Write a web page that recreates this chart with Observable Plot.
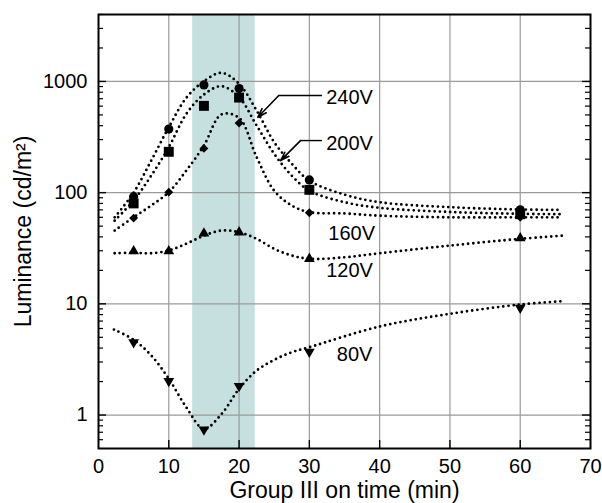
<!DOCTYPE html>
<html>
<head>
<meta charset="utf-8">
<script src="https://cdn.jsdelivr.net/npm/d3@7"></script>
<script src="https://cdn.jsdelivr.net/npm/@observablehq/plot@0.6"></script>
<style>
  html, body { margin: 0; padding: 0; background: #fff; }
  #chart svg { display: block; }
</style>
</head>
<body>
<div id="chart"></div>
<script>
// ---- measured data ----
const times = [5, 10, 15, 20, 30, 60];
const v240 = [92, 373, 930, 862, 130, 70];
const v200 = [80, 233, 603, 716, 106, 64];
const v160 = [59, 101, 250, 422, 66, 60];
const v120 = [29.8, 29.8, 43, 44, 25.4, 39];
const v80  = [4.5, 2.02, 0.74, 1.82, 3.7, 9.2];

// dotted fitted curves
const curveX = [2.3, 5, 7.5, 10, 12.5, 15, 17.5, 20, 22.5, 25, 27.5, 30, 35, 40, 50, 60, 66];
const c240 = [60, 100, 194, 387, 712, 1004, 1195, 951, 547, 284, 182, 128, 96, 82, 74, 70.5, 70];
const c200 = [56, 85, 142, 256, 511, 762, 905, 721, 401, 223, 142, 104, 82, 73, 67, 64.5, 64];
const c160 = [45.6, 60, 76.5, 101, 158, 265, 505, 470, 208, 104, 76.5, 66.7, 65, 62, 60, 60, 60];
const c120 = [28.5, 28.8, 28.5, 30.2, 34.7, 41, 45.6, 44, 38.4, 31.2, 27.2, 25.4, 26.2, 28.5, 33.4, 38.4, 41];
const curve80X = [2.2, 5, 7.5, 10, 12.5, 15, 17.5, 20, 22.5, 25, 27.5, 30, 40, 50, 60, 66];
const c80 = [5.87, 4.75, 3.43, 2.12, 1.17, 0.75, 1.02, 1.72, 2.51, 3.13, 3.67, 4.07, 6.25, 8.13, 9.86, 10.55];

// shaded interval (min)
const bandStart = 13.4, bandEnd = 22.3;

// annotations
const labelNames = ["240V", "200V", "160V", "120V", "80V"];
const labelX = [32.4, 32.4, 32.7, 32.4, 33.9];
const labelY = [721, 278, 43.1, 19.9, 3.5];
// leader lines: [labelSideX, bendX, tipX], [horizontalY, tipY]
const leaderX = [[31.8, 25.65, 22.66], [31.8, 28.74, 25.9]];
const leaderY = [[747, 476], [294, 194]];

// axes
const xTicks = [0, 10, 20, 30, 40, 50, 60, 70];
const xGrid = [10, 20, 30, 40, 50, 60];
const yMajor = [1, 10, 100, 1000];
const yMinor = [0.6, 0.7, 0.8, 0.9, 2, 3, 4, 5, 6, 7, 8, 9, 20, 30, 40, 50, 60, 70, 80, 90,
                200, 300, 400, 500, 600, 700, 800, 900, 2000, 3000, 4000];

// ---- build tables ----
const pts = (vals) => times.map((t, i) => ({x: t, y: vals[i]}));
const crv = (xs, vals) => xs.map((t, i) => ({x: t, y: vals[i]}));
const labels = labelNames.map((n, i) => ({x: labelX[i], y: labelY[i], text: n}));
const horiz = leaderX.map((lx, i) => ({x1: lx[0], x2: lx[1], y1: leaderY[i][0], y2: leaderY[i][0]}));
const diag = leaderX.map((lx, i) => ({x1: lx[1], x2: lx[2], y1: leaderY[i][0], y2: leaderY[i][1]}));

const FONT = "'Liberation Sans', Arial, Helvetica, sans-serif";
const W = 602, H = 503, ML = 98, MR = 12, MT = 14, MB = 55;
const FW = W - ML - MR, FH = H - MT - MB;
const dotted = {stroke: "black", strokeWidth: 2.8, strokeDasharray: "0,5.2", strokeLinecap: "round", curve: "catmull-rom"};

const chart = Plot.plot({
  width: W, height: H,
  marginLeft: ML, marginRight: MR, marginTop: MT, marginBottom: MB,
  style: {fontFamily: FONT, fontSize: "20px", background: "white", color: "black"},
  x: {domain: [0, 70]},
  y: {type: "log", domain: [0.5, 4000]},
  marks: [
    Plot.rect([{x1: bandStart, x2: bandEnd}], {x1: "x1", x2: "x2", fill: "#c5e0df"}),
    Plot.ruleX(xGrid, {stroke: "#9a9a9a", strokeWidth: 1.2}),
    Plot.ruleY(yMajor, {stroke: "#9a9a9a", strokeWidth: 1.2}),
    // inward ticks
    Plot.tickY(yMinor, {y: d => d, insetRight: FW - 5, stroke: "black", strokeWidth: 1.2}),
    Plot.tickY(yMinor, {y: d => d, insetLeft: FW - 5, stroke: "black", strokeWidth: 1.2}),
    Plot.tickY(yMajor, {y: d => d, insetRight: FW - 8, stroke: "black", strokeWidth: 1.4}),
    Plot.tickY(yMajor, {y: d => d, insetLeft: FW - 8, stroke: "black", strokeWidth: 1.4}),
    Plot.tickX(xGrid, {x: d => d, insetTop: FH - 8, stroke: "black", strokeWidth: 1.4}),
    Plot.axisX({ticks: xTicks, tickSize: 0, tickPadding: 10, label: null, fontSize: 20, tickFormat: d => String(d)}),
    Plot.axisY({ticks: yMajor, tickSize: 0, tickPadding: 11, label: null, fontSize: 20, tickFormat: d => String(d)}),
    // curves
    Plot.line(crv(curveX, c240), {x: "x", y: "y", ...dotted}),
    Plot.line(crv(curveX, c200), {x: "x", y: "y", ...dotted}),
    Plot.line(crv(curveX, c160), {x: "x", y: "y", ...dotted}),
    Plot.line(crv(curveX, c120), {x: "x", y: "y", ...dotted}),
    Plot.line(crv(curve80X, c80), {x: "x", y: "y", ...dotted}),
    // points
    Plot.dot(pts(v200), {x: "x", y: "y", symbol: "square", r: 5.6, fill: "black"}),
    Plot.dot(pts(v240), {x: "x", y: "y", symbol: "circle", r: 4.6, fill: "black"}),
    Plot.dot(pts(v160), {x: "x", y: "y", symbol: "diamond2", r: 4.0, fill: "black"}),
    Plot.dot(pts(v120), {x: "x", y: "y", symbol: "triangle", r: 4.0, fill: "black"}),
    Plot.dot(pts(v80), {x: "x", y: "y", symbol: "triangle", r: 4.0, fill: "black", rotate: 180}),
    // annotations
    Plot.link(horiz, {x1: "x1", x2: "x2", y1: "y1", y2: "y2", stroke: "black", strokeWidth: 1.4}),
    Plot.arrow(diag, {x1: "x1", x2: "x2", y1: "y1", y2: "y2", stroke: "black", strokeWidth: 1.6, headLength: 9, headAngle: 35}),
    Plot.text(labels, {x: "x", y: "y", text: "text", textAnchor: "start", fontSize: 20, fill: "black"}),
    // titles
    Plot.text(["Group III on time (min)"], {text: d => d, frameAnchor: "bottom", textAnchor: "middle", lineAnchor: "middle", dy: 42, fontSize: 23, fill: "black"}),
    Plot.text(["Luminance (cd/m²)"], {text: d => d, frameAnchor: "left", textAnchor: "middle", lineAnchor: "middle", dx: -75, rotate: -90, fontSize: 23, fill: "black"}),
    Plot.frame({stroke: "black", strokeWidth: 2})
  ]
});
document.getElementById("chart").appendChild(chart);
</script>
</body>
</html>
